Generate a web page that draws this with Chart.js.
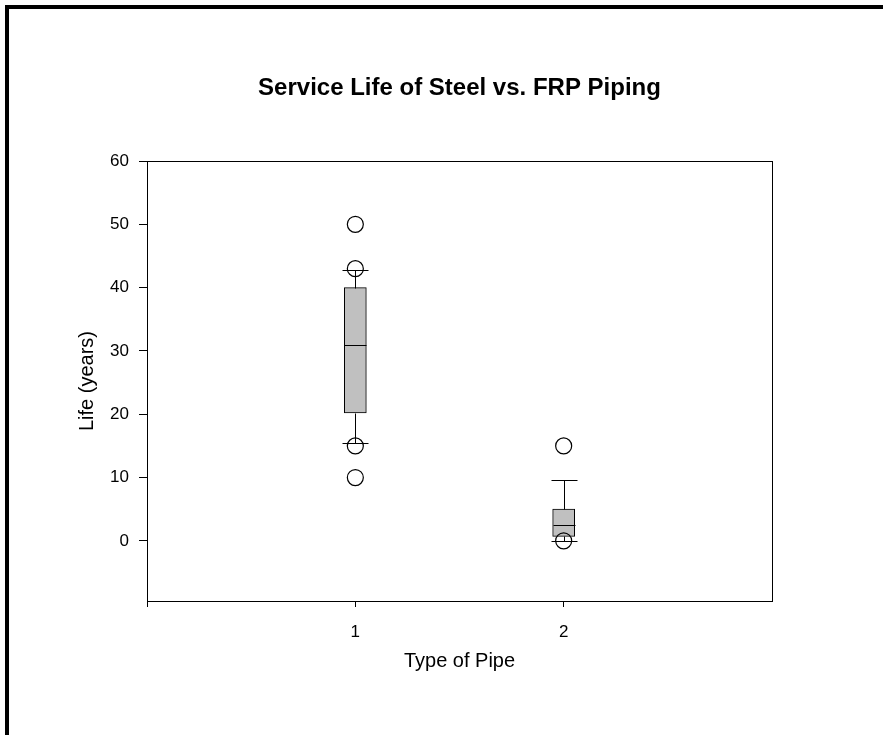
<!DOCTYPE html>
<html>
<head>
<meta charset="utf-8">
<title>Service Life of Steel vs. FRP Piping</title>
<script src="https://cdn.jsdelivr.net/npm/chart.js@4.4.1/dist/chart.umd.min.js"></script>
<style>
  html, body { margin: 0; padding: 0; background: #fff; }
  canvas { display: block; }
</style>
</head>
<body>
<canvas id="boxChart" width="883" height="735"></canvas>
<script>
// ===== DATA =====
const pipeTypes = [1, 2];
const q1 = [20.2, 0.7];
const medians = [31, 2.5];
const q3 = [40, 5];
const whiskerLow = [15.4, 0];
const whiskerHigh = [42.8, 9.6];
const outliers = [
  [50, 43, 15, 10],
  [15, 0]
];
const yTicks = [0, 10, 20, 30, 40, 50, 60];
const xTicks = [0, 1, 2];
const xTickLabels = ['', '1', '2'];

const FONT = 'Liberation Sans, Arial, Helvetica, sans-serif';

// ===== PLUGINS =====
// outer frame (top + left edge of the figure)
const framePlugin = {
  id: 'frame',
  beforeDraw(chart) {
    const ctx = chart.ctx;
    ctx.save();
    ctx.fillStyle = '#000';
    ctx.fillRect(5, 5, chart.width - 5, 4);
    ctx.fillRect(5, 5, 4, chart.height - 5);
    ctx.restore();
  }
};

// medians, whiskers and caps, placed through the chart scales
const boxPartsPlugin = {
  id: 'boxParts',
  afterDatasetsDraw(chart) {
    const { ctx, scales: { x, y } } = chart;
    ctx.save();
    ctx.strokeStyle = '#000';
    ctx.lineWidth = 1;
    pipeTypes.forEach((t, i) => {
      const px = Math.round(x.getPixelForValue(t)) + 0.5;
      const line = (x1, y1, x2, y2) => {
        ctx.beginPath();
        ctx.moveTo(x1, y1);
        ctx.lineTo(x2, y2);
        ctx.stroke();
      };
      const yv = v => Math.round(y.getPixelForValue(v)) + 0.5;
      // whiskers
      line(px, yv(q3[i]), px, yv(whiskerHigh[i]));
      line(px, yv(q1[i]), px, yv(whiskerLow[i]));
      // caps
      line(px - 13, yv(whiskerHigh[i]), px + 13, yv(whiskerHigh[i]));
      line(px - 13, yv(whiskerLow[i]), px + 13, yv(whiskerLow[i]));
      // median
      line(px - 11, yv(medians[i]), px + 11, yv(medians[i]));
    });
    ctx.restore();
  }
};

// closed box around the plot area
const plotBoxPlugin = {
  id: 'plotBox',
  afterDraw(chart) {
    const { ctx, chartArea: a } = chart;
    ctx.save();
    ctx.strokeStyle = '#000';
    ctx.lineWidth = 1;
    ctx.strokeRect(Math.round(a.left) + 0.5, Math.round(a.top) + 0.5,
      Math.round(a.right - a.left), Math.round(a.bottom - a.top));
    ctx.restore();
  }
};

// ===== CHART =====
const ctx = document.getElementById('boxChart').getContext('2d');

new Chart(ctx, {
  type: 'bar',
  data: {
    datasets: [
      {
        label: 'Box',
        data: pipeTypes.map((t, i) => ({ x: t, y: [q1[i], q3[i]] })),
        backgroundColor: '#c0c0c0',
        borderColor: '#000',
        borderWidth: 1,
        borderSkipped: false,
        barThickness: 22,
        order: 2
      },
      {
        type: 'scatter',
        label: 'Outliers',
        data: outliers.flatMap((vals, i) => vals.map(v => ({ x: pipeTypes[i], y: v }))),
        pointStyle: 'circle',
        pointRadius: 8,
        pointHoverRadius: 8,
        borderColor: '#000',
        borderWidth: 1.2,
        backgroundColor: 'rgba(0,0,0,0)',
        order: 1
      }
    ]
  },
  options: {
    responsive: false,
    animation: false,
    layout: { padding: { left: 0, right: 111, top: 0, bottom: 0 } },
    plugins: {
      legend: { display: false },
      tooltip: { enabled: false },
      title: {
        display: true,
        text: 'Service Life of Steel vs. FRP Piping',
        color: '#000',
        fullSize: false,
        font: { family: FONT, size: 24, weight: 'bold' },
        padding: { top: 73.6, bottom: 58.6 }
      }
    },
    scales: {
      x: {
        type: 'linear',
        min: 0,
        max: 3,
        offset: false,
        afterFit: s => { s.height = 134; },
        afterBuildTicks: s => { s.ticks = xTicks.map(v => ({ value: v })); },
        grid: { drawOnChartArea: false, tickLength: 6, color: '#000', offset: false },
        border: { color: '#000', width: 1 },
        ticks: {
          color: '#000',
          padding: 15,
          font: { family: FONT, size: 17 },
          callback: v => xTickLabels[xTicks.indexOf(v)]
        },
        title: {
          display: true,
          text: 'Type of Pipe',
          color: '#000',
          font: { family: FONT, size: 20 },
          padding: { top: 0, bottom: 62 }
        }
      },
      y: {
        min: -9.5,
        max: 60,
        afterFit: s => { s.width = 147; },
        afterBuildTicks: s => { s.ticks = yTicks.map(v => ({ value: v })); },
        grid: { drawOnChartArea: false, tickLength: 8, color: '#000' },
        border: { color: '#000', width: 1 },
        ticks: {
          color: '#000',
          padding: 10,
          font: { family: FONT, size: 17 }
        },
        title: {
          display: true,
          text: 'Life (years)',
          color: '#000',
          font: { family: FONT, size: 20 },
          padding: { top: 75.5, bottom: 0 }
        }
      }
    }
  },
  plugins: [framePlugin, boxPartsPlugin, plotBoxPlugin]
});
</script>
</body>
</html>
